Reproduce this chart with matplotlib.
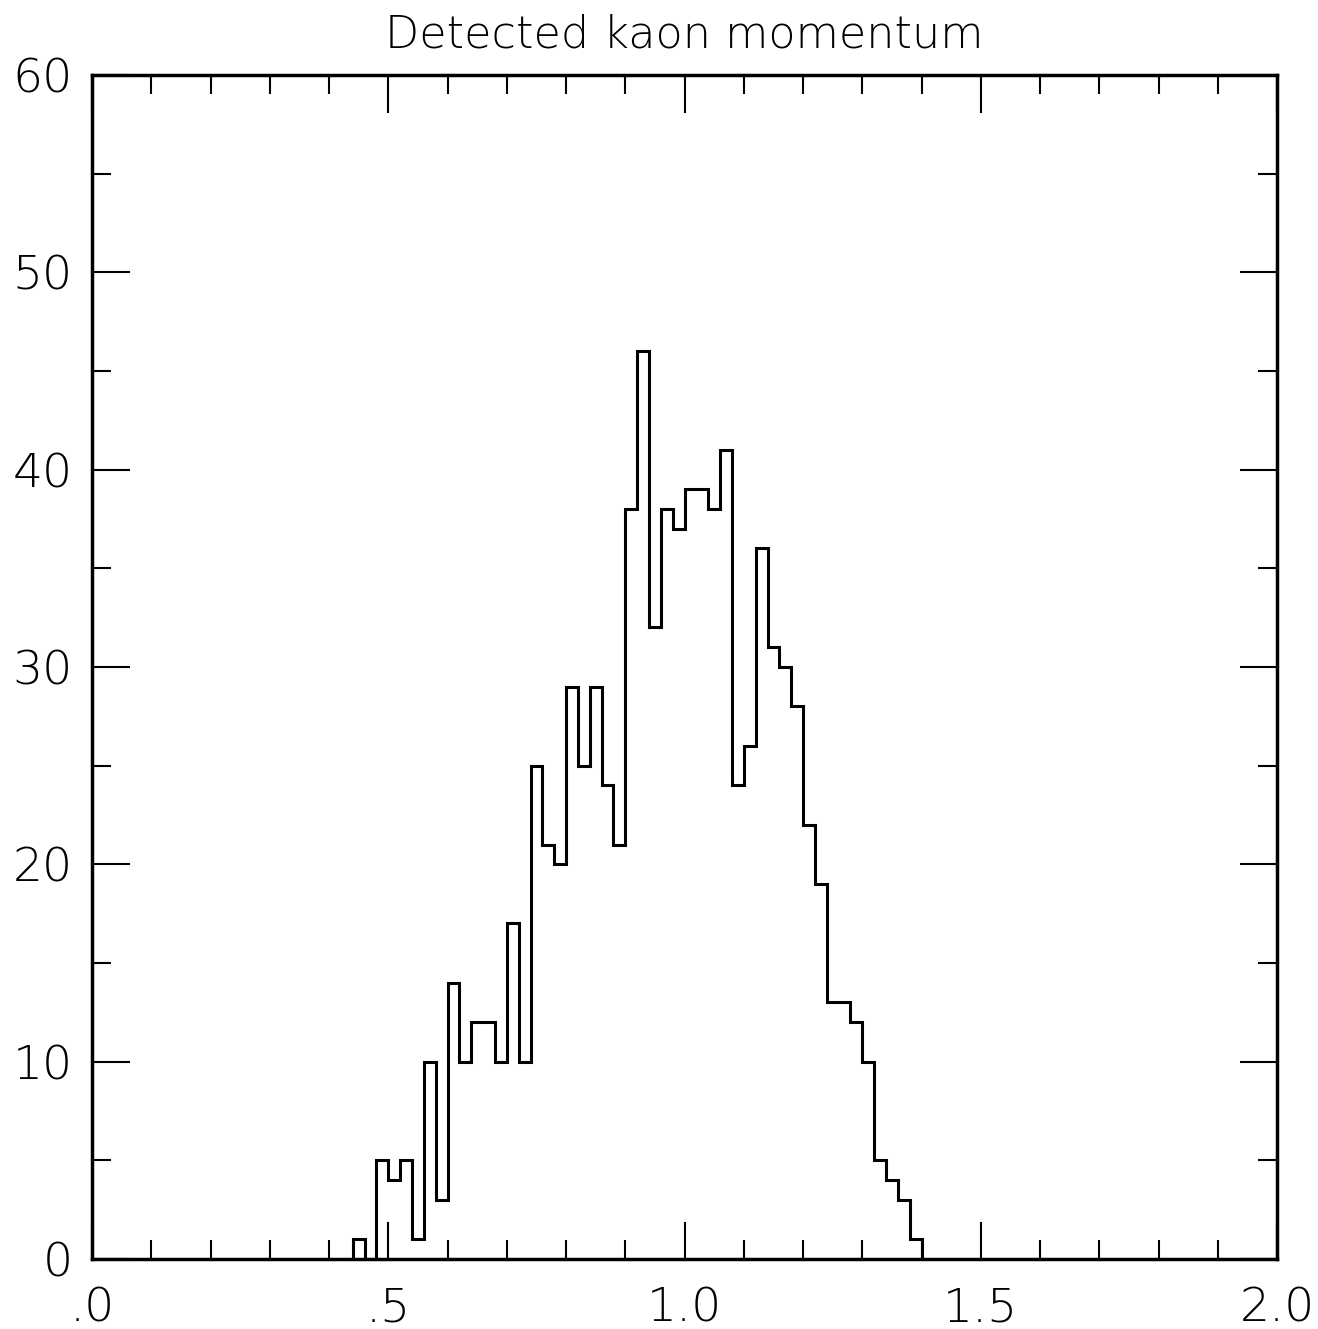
import numpy as np
import matplotlib
matplotlib.use('Agg')
import matplotlib.pyplot as plt
from matplotlib.ticker import MultipleLocator, FixedLocator

matplotlib.rcParams['font.family'] = ['DejaVu Sans']

# histogram data: counts per 0.02 bin starting at 0.44
bin_start = 0.44
bin_width = 0.02
counts = [1, 0, 5, 4, 5, 1, 10, 3, 14, 10, 12, 12, 10, 17, 10,
          25, 21, 20, 29, 25, 29, 24, 21, 38, 46, 32, 38, 37, 39, 39,
          38, 41, 24, 26, 36, 31, 30, 28, 22, 19, 13, 13, 12, 10, 5,
          4, 3, 1]
x_ticks = [0.0, 0.5, 1.0, 1.5, 2.0]
x_labels = ['.0', '.5', '1.0', '1.5', '2.0']
y_ticks = [0, 10, 20, 30, 40, 50, 60]
title = 'Detected kaon momentum'

edges = bin_start + bin_width * np.arange(len(counts) + 1)

fig = plt.figure(figsize=(13.18, 13.29), dpi=100)
ax = fig.add_axes([0.0698, 0.0527, 0.8992, 0.891])

ax.stairs(counts, edges, baseline=0, fill=False, color='black', linewidth=2.2)

ax.set_xlim(0, 2.0)
ax.set_ylim(0, 60)
ax.xaxis.set_major_locator(FixedLocator(x_ticks))
ax.set_xticklabels(x_labels)
ax.xaxis.set_minor_locator(MultipleLocator(0.1))
ax.yaxis.set_major_locator(FixedLocator(y_ticks))
ax.yaxis.set_minor_locator(MultipleLocator(5))

ax.tick_params(which='both', direction='in', top=True, right=True,
               colors='black', width=1.5)
ax.tick_params(which='major', length=27, labelsize=34, pad=14)
ax.tick_params(which='minor', length=14)
ax.tick_params(axis='x', which='major', pad=20)
for lbl in ax.get_xticklabels() + ax.get_yticklabels():
    lbl.set_fontweight('light')

for sp in ax.spines.values():
    sp.set_linewidth(2.5)

ax.set_title(title, fontsize=32, pad=20, fontweight='light')

fig.savefig('out.png', dpi=100, facecolor='white')
